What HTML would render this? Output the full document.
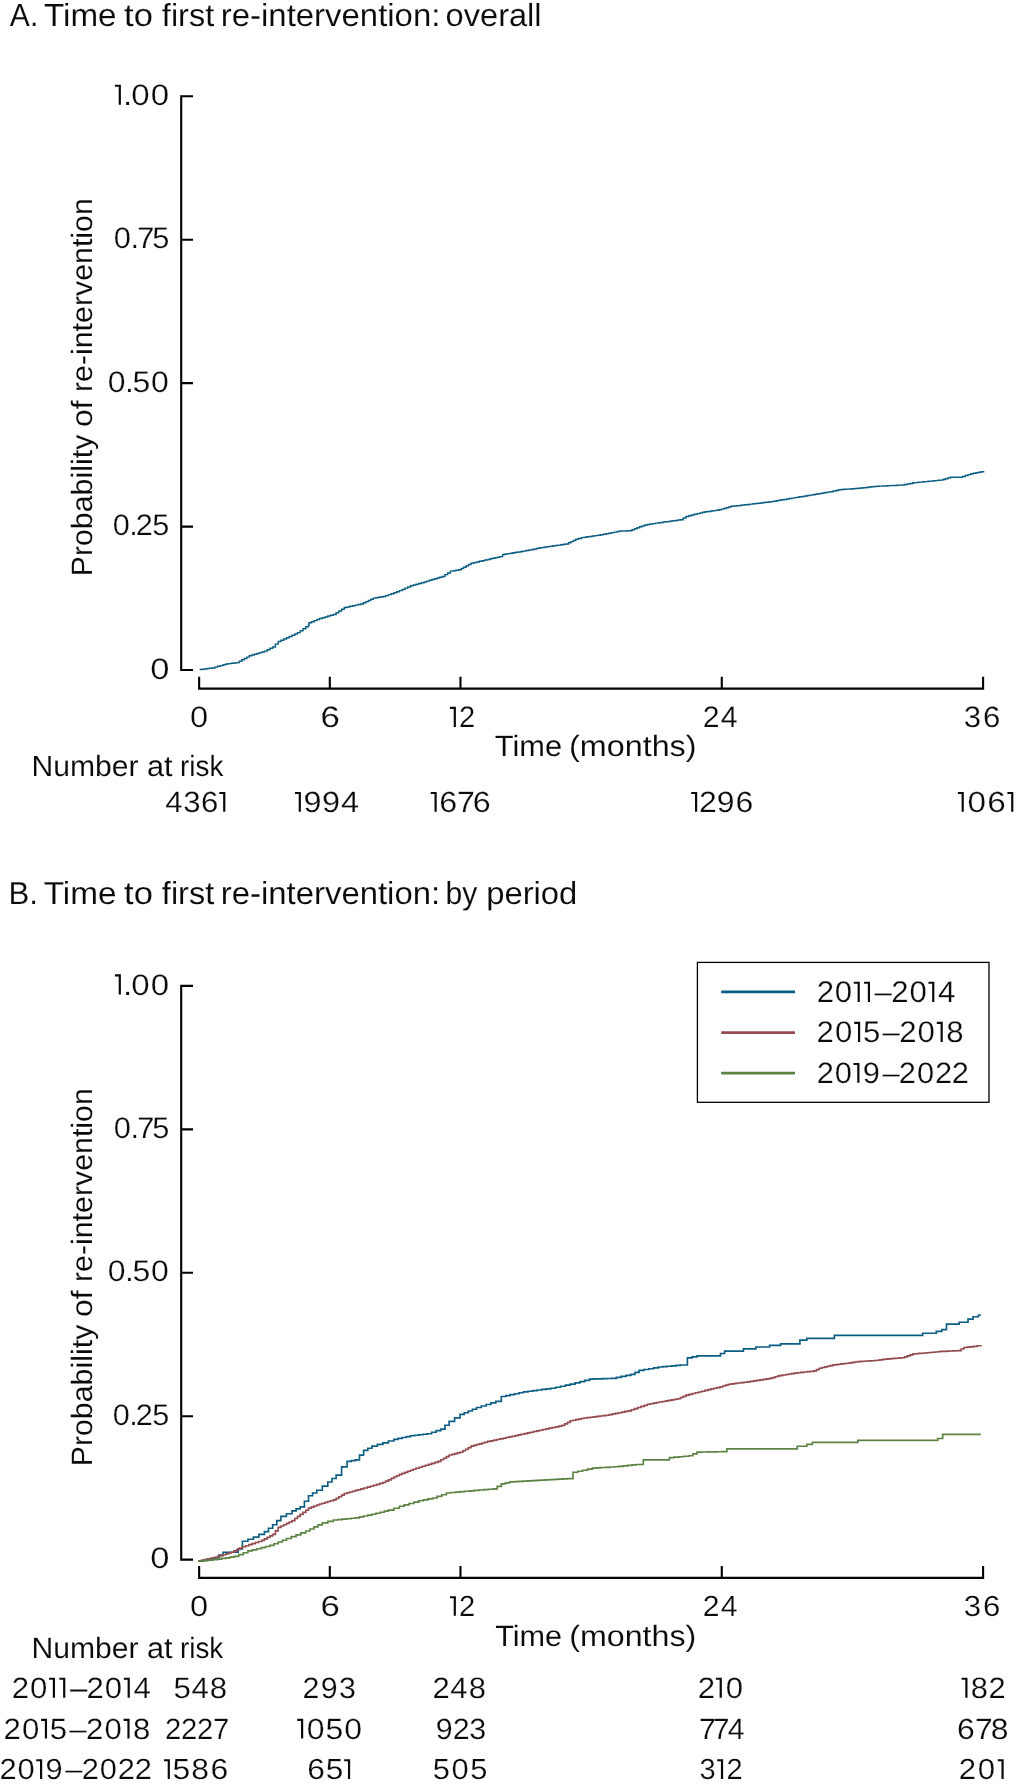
<!DOCTYPE html>
<html><head><meta charset="utf-8"><title>Figure</title>
<style>
html,body{margin:0;padding:0;background:#fff;}
svg{display:block;will-change:transform}
text{font-family:"Liberation Sans",sans-serif;font-size:30px;fill:#0a0a0a;stroke:#fff;stroke-width:0.1px;text-rendering:geometricPrecision;}
.d{stroke-width:0.22px}
.h{fill:none;stroke:none}
.ax{stroke:#000;stroke-width:2.1;fill:none;stroke-linecap:butt}
.cv{fill:none;stroke-width:1.65;stroke-linejoin:miter;stroke-linecap:butt}
</style></head><body>
<svg width="1016" height="1786" viewBox="0 0 1016 1786">
<rect width="1016" height="1786" fill="#fff"/>
<text transform="translate(9.85,25.93) scale(1.0020,1.0634)">A.</text>
<text transform="translate(43.97,25.93) scale(1.1077,1.0634)">Time</text>
<text transform="translate(124.02,25.93) scale(1.1527,1.0634)">to</text>
<text transform="translate(161.86,25.93) scale(1.0821,1.0634)">first</text>
<text transform="translate(220.81,25.93) scale(1.0971,1.0634)">re-intervention:</text>
<text transform="translate(445.61,25.93) scale(1.0859,1.0634)">overall</text>
<text transform="translate(8.50,904.08) scale(1.0391,1.0610)">B.</text>
<text transform="translate(43.67,904.08) scale(1.1124,1.0610)">Time</text>
<text transform="translate(124.02,904.08) scale(1.1527,1.0610)">to</text>
<text transform="translate(161.86,904.08) scale(1.0821,1.0610)">first</text>
<text transform="translate(220.81,904.08) scale(1.0960,1.0610)">re-intervention:</text>
<text transform="translate(445.39,904.08) scale(1.0034,1.0610)">by</text>
<text transform="translate(486.22,904.08) scale(1.0923,1.0610)">period</text>
<text class="d" transform="translate(0,104.95) scale(1.1018,0.9893)" x="104.33 111.64 119.15 136.89"><tspan class="h">1</tspan>.00</text><path fill="#0a0a0a" d="M114.95,84.75H120.90V104.80H118.70V86.85H114.95Z"/>
<text class="d" transform="translate(0,248.38) scale(1.0275,0.9893)" x="110.79 127.01 133.66 148.16">0.75</text>
<text class="d" transform="translate(0,391.81) scale(1.0659,0.9893)" x="101.16 117.35 124.30 141.69">0.50</text>
<text class="d" transform="translate(0,535.24) scale(1.0228,0.9893)" x="110.18 126.26 132.67 148.90">0.25</text>
<text class="d" transform="translate(0,678.67) scale(1.1509,0.9893)" x="130.56">0</text>
<text class="d" transform="translate(0,994.55) scale(1.1018,0.9893)" x="104.33 111.64 119.15 136.89"><tspan class="h">1</tspan>.00</text><path fill="#0a0a0a" d="M114.95,974.35H120.90V994.40H118.70V976.45H114.95Z"/>
<text class="d" transform="translate(0,1137.98) scale(1.0275,0.9893)" x="110.79 127.01 133.66 148.16">0.75</text>
<text class="d" transform="translate(0,1281.41) scale(1.0659,0.9893)" x="101.16 117.35 124.30 141.69">0.50</text>
<text class="d" transform="translate(0,1424.84) scale(1.0228,0.9893)" x="110.18 126.26 132.67 148.90">0.25</text>
<text class="d" transform="translate(0,1568.27) scale(1.1509,0.9893)" x="130.56">0</text>
<text class="d" transform="translate(0,727.05) scale(1.0877,0.9893)" x="174.62">0</text>
<text class="d" transform="translate(0,1615.96) scale(1.0877,0.9704)" x="174.62">0</text>
<text class="d" transform="translate(0,727.05) scale(1.1596,0.9893)" x="276.48">6</text>
<text class="d" transform="translate(0,1615.96) scale(1.1596,0.9704)" x="276.48">6</text>
<text class="d" transform="translate(0,727.05) scale(0.9704,0.9893)" x="463.69 473.14"><tspan class="h">1</tspan>2</text><path fill="#0a0a0a" d="M449.95,706.85H455.90V726.90H453.70V708.95H449.95Z"/>
<text class="d" transform="translate(0,1615.96) scale(0.9704,0.9704)" x="463.69 473.14"><tspan class="h">1</tspan>2</text><path fill="#0a0a0a" d="M449.95,1596.15H455.90V1615.80H453.70V1598.25H449.95Z"/>
<text class="d" transform="translate(0,727.05) scale(1.0070,0.9893)" x="697.92 715.67">24</text>
<text class="d" transform="translate(0,1615.96) scale(1.0070,0.9704)" x="697.92 715.67">24</text>
<text class="d" transform="translate(0,727.05) scale(1.0389,0.9893)" x="927.68 946.21">36</text>
<text class="d" transform="translate(0,1615.96) scale(1.0389,0.9704)" x="927.68 946.21">36</text>
<text transform="translate(494.83,755.92) scale(1.0272,0.9756)">Time</text>
<text transform="translate(569.08,755.92) scale(1.0766,0.9756)">(months)</text>
<text transform="translate(495.13,1646.12) scale(1.0225,0.9805)">Time</text>
<text transform="translate(569.19,1646.12) scale(1.0739,0.9805)">(months)</text>
<text transform="translate(31.49,775.82) scale(1.0036,0.9732)">Number</text>
<text transform="translate(146.99,775.82) scale(1.0225,0.9732)">at</text>
<text transform="translate(180.04,775.82) scale(0.9281,0.9732)">risk</text>
<text transform="translate(31.49,1658.02) scale(1.0036,0.9756)">Number</text>
<text transform="translate(146.99,1658.02) scale(1.0225,0.9756)">at</text>
<text transform="translate(180.05,1658.02) scale(0.9258,0.9756)">risk</text>
<text class="d" transform="translate(0,811.86) scale(1.0393,0.9751)" x="159.07 176.39 193.33 211.10">436<tspan class="h">1</tspan></text><path fill="#0a0a0a" d="M219.40,791.95H225.35V811.70H223.15V794.05H219.40Z"/>
<text class="d" transform="translate(0,811.86) scale(1.0824,0.9751)" x="272.51 280.35 297.58 315.12"><tspan class="h">1</tspan>994</text><path fill="#0a0a0a" d="M294.95,791.95H300.90V811.70H298.70V794.05H294.95Z"/>
<text class="d" transform="translate(0,811.86) scale(1.0724,0.9751)" x="401.67 409.60 426.17 440.74"><tspan class="h">1</tspan>676</text><path fill="#0a0a0a" d="M430.75,791.95H436.70V811.70H434.50V794.05H430.75Z"/>
<text class="d" transform="translate(0,811.86) scale(1.0642,0.9751)" x="649.54 656.79 673.45 691.04"><tspan class="h">1</tspan>296</text><path fill="#0a0a0a" d="M691.25,791.95H697.20V811.70H695.00V794.05H691.25Z"/>
<text class="d" transform="translate(0,811.86) scale(1.1085,0.9751)" x="864.08 872.71 890.64 908.78"><tspan class="h">1</tspan>06<tspan class="h">1</tspan></text><path fill="#0a0a0a" d="M957.85,791.95H963.80V811.70H961.60V794.05H957.85Z"/><path fill="#0a0a0a" d="M1007.40,791.95H1013.35V811.70H1011.15V794.05H1007.40Z"/>
<text class="d" transform="translate(0,1697.85) scale(1.0383,0.9846)" x="11.37 28.93 47.26 57.17 67.34 83.40 100.96 119.29 128.51">20<tspan class="h">1</tspan><tspan class="h">1</tspan>–20<tspan class="h">1</tspan>4</text><path fill="#0a0a0a" d="M49.07,1677.75H55.02V1697.70H52.82V1679.85H49.07Z"/><path fill="#0a0a0a" d="M59.36,1677.75H65.31V1697.70H63.11V1679.85H59.36Z"/><path fill="#0a0a0a" d="M123.86,1677.75H129.81V1697.70H127.61V1679.85H123.86Z"/>
<text class="d" transform="translate(0,1697.85) scale(1.0395,0.9846)" x="166.85 184.12 201.77">548</text>
<text class="d" transform="translate(0,1697.85) scale(1.0133,0.9846)" x="298.58 316.44 334.63">293</text>
<text class="d" transform="translate(0,1697.85) scale(1.0329,0.9846)" x="418.61 435.87 453.90">248</text>
<text class="d" transform="translate(0,1697.85) scale(1.0378,0.9846)" x="672.22 689.78 699.39">2<tspan class="h">1</tspan>0</text><path fill="#0a0a0a" d="M715.88,1677.75H721.83V1697.70H719.62V1679.85H715.88Z"/>
<text class="d" transform="translate(0,1697.85) scale(1.0291,0.9846)" x="934.37 943.22 960.49"><tspan class="h">1</tspan>82</text><path fill="#0a0a0a" d="M961.55,1677.75H967.50V1697.70H965.30V1679.85H961.55Z"/>
<text class="d" transform="translate(0,1738.76) scale(1.0383,0.9751)" x="3.42 21.12 39.58 47.99 66.71 82.90 100.60 119.06 128.10">20<tspan class="h">1</tspan>5–20<tspan class="h">1</tspan>8</text><path fill="#0a0a0a" d="M41.10,1718.85H47.05V1738.60H44.85V1720.95H41.10Z"/><path fill="#0a0a0a" d="M123.63,1718.85H129.58V1738.60H127.38V1720.95H123.63Z"/>
<text class="d" transform="translate(0,1738.76) scale(0.9741,0.9751)" x="169.49 185.84 202.20 218.66">2227</text>
<text class="d" transform="translate(0,1738.76) scale(1.0659,0.9751)" x="278.88 287.73 305.39 323.04"><tspan class="h">1</tspan>050</text><path fill="#0a0a0a" d="M297.25,1718.85H303.20V1738.60H301.00V1720.95H297.25Z"/>
<text class="d" transform="translate(0,1738.76) scale(1.0133,0.9751)" x="430.08 446.90 463.02">923</text>
<text class="d" transform="translate(0,1738.76) scale(1.0048,0.9751)" x="695.62 709.31 724.26">774</text>
<text class="d" transform="translate(0,1738.76) scale(1.0626,0.9751)" x="900.74 917.50 932.32">678</text>
<text class="d" transform="translate(0,1779.06) scale(1.0286,0.9704)" x="-0.60 16.98 35.24 44.15 63.39 79.44 97.01 114.59 130.90">20<tspan class="h">1</tspan>9–2022</text><path fill="#0a0a0a" d="M36.25,1759.25H42.20V1778.90H40.00V1761.35H36.25Z"/>
<text class="d" transform="translate(0,1779.06) scale(1.0643,0.9704)" x="154.05 162.18 179.72 197.81"><tspan class="h">1</tspan>586</text><path fill="#0a0a0a" d="M163.95,1759.25H169.90V1778.90H167.70V1761.35H163.95Z"/>
<text class="d" transform="translate(0,1779.06) scale(1.0534,0.9704)" x="291.74 309.34 326.75">65<tspan class="h">1</tspan></text><path fill="#0a0a0a" d="M344.20,1759.25H350.15V1778.90H347.95V1761.35H344.20Z"/>
<text class="d" transform="translate(0,1779.06) scale(1.0296,0.9704)" x="420.39 438.60 456.81">505</text>
<text class="d" transform="translate(0,1779.06) scale(0.9673,0.9704)" x="723.14 741.44 751.03">3<tspan class="h">1</tspan>2</text><path fill="#0a0a0a" d="M717.17,1759.25H723.12V1778.90H720.92V1761.35H717.17Z"/>
<text class="d" transform="translate(0,1779.06) scale(1.0378,0.9704)" x="923.90 942.23 961.33">20<tspan class="h">1</tspan></text><path fill="#0a0a0a" d="M997.70,1759.25H1003.65V1778.90H1001.45V1761.35H997.70Z"/>
<text class="d" transform="translate(0,1002.05) scale(1.0383,0.9988)" x="786.53 804.05 822.34 832.21 842.33 858.35 875.87 894.16 903.34">20<tspan class="h">1</tspan><tspan class="h">1</tspan>–20<tspan class="h">1</tspan>4</text><path fill="#0a0a0a" d="M853.84,981.65H859.79V1001.90H857.59V983.75H853.84Z"/><path fill="#0a0a0a" d="M864.08,981.65H870.03V1001.90H867.83V983.75H864.08Z"/><path fill="#0a0a0a" d="M928.41,981.65H934.36V1001.90H932.16V983.75H928.41Z"/>
<text class="d" transform="translate(0,1042.15) scale(1.0383,0.9941)" x="786.51 804.22 822.70 831.12 849.85 866.05 883.76 902.24 911.28">20<tspan class="h">1</tspan>5–20<tspan class="h">1</tspan>8</text><path fill="#0a0a0a" d="M854.23,1021.85H860.18V1042.00H857.98V1023.95H854.23Z"/><path fill="#0a0a0a" d="M936.81,1021.85H942.76V1042.00H940.56V1023.95H936.81Z"/>
<text class="d" transform="translate(0,1082.96) scale(1.0286,0.9799)" x="794.05 811.58 829.80 838.67 857.86 873.87 891.40 908.93 925.20">20<tspan class="h">1</tspan>9–2022</text><path fill="#0a0a0a" d="M853.51,1062.95H859.46V1082.80H857.26V1065.05H853.51Z"/>
<text transform="translate(92.22,576.33) rotate(-90) scale(1.0111,0.9805)">Probability</text>
<text transform="translate(92.22,426.96) rotate(-90) scale(1.0624,0.9805)">of</text>
<text transform="translate(92.22,392.12) rotate(-90) scale(1.0115,0.9805)">re-intervention</text>
<text transform="translate(92.22,1466.33) rotate(-90) scale(1.0111,0.9805)">Probability</text>
<text transform="translate(92.22,1316.96) rotate(-90) scale(1.0624,0.9805)">of</text>
<text transform="translate(92.22,1282.12) rotate(-90) scale(1.0115,0.9805)">re-intervention</text>
<path class="ax" d="M181.2,95.25 V671.07 M181.2,96.30 H193 M181.2,239.73 H193 M181.2,383.16 H193 M181.2,526.59 H193 M181.2,670.02 H193 M198.10,688.65 H984.15 M199.15,688.65 V676.65 M329.81,688.65 V676.65 M460.47,688.65 V676.65 M721.78,688.65 V676.65 M983.10,688.65 V676.65"/>
<path class="ax" d="M181.2,984.85 V1560.67 M181.2,985.90 H193 M181.2,1129.33 H193 M181.2,1272.76 H193 M181.2,1416.19 H193 M181.2,1559.62 H193 M198.10,1577.90 H984.15 M199.15,1577.90 V1565.90 M329.81,1577.90 V1565.90 M460.47,1577.90 V1565.90 M721.78,1577.90 V1565.90 M983.10,1577.90 V1565.90"/>
<path class="cv" style="stroke-width:1.45" stroke="#0b5d83" d="M199.6,669.5 L202.1,669.5 L202.1,669.2 L204.6,669.2 L204.6,668.9 L207.0,668.9 L207.0,668.5 L209.5,668.5 L209.5,668.2 L212.0,668.2 L212.0,667.9 L214.8,667.9 L214.8,667.1 L217.5,667.1 L217.5,666.3 L220.3,666.3 L220.3,665.6 L223.0,665.6 L223.0,664.8 L225.8,664.8 L225.8,664.0 L228.6,664.0 L228.6,663.6 L231.3,663.6 L231.3,663.3 L234.1,663.3 L234.1,663.0 L236.8,663.0 L236.8,662.6 L239.3,662.6 L239.3,661.2 L241.8,661.2 L241.8,659.8 L244.3,659.8 L244.3,658.5 L246.8,658.5 L246.8,657.1 L249.3,657.1 L249.3,655.7 L251.8,655.7 L251.8,654.9 L254.3,654.9 L254.3,654.2 L256.9,654.2 L256.9,653.4 L259.4,653.4 L259.4,652.6 L261.9,652.6 L261.9,651.9 L264.4,651.9 L264.4,651.1 L267.2,651.1 L267.2,649.7 L269.9,649.7 L269.9,648.3 L272.7,648.3 L272.7,646.9 L275.4,646.9 L275.4,644.1 L278.2,644.1 L278.2,641.4 L281.0,641.4 L281.0,640.2 L283.7,640.2 L283.7,639.0 L286.5,639.0 L286.5,637.8 L289.2,637.8 L289.2,636.5 L292.0,636.5 L292.0,635.2 L294.8,635.2 L294.8,633.9 L297.5,633.9 L297.5,632.6 L300.2,632.6 L300.2,630.7 L303.0,630.7 L303.0,628.8 L305.8,628.8 L305.8,626.8 L308.5,626.8 L308.5,624.9 L309.0,624.9 L309.0,622.7 L311.6,622.7 L311.6,621.7 L314.2,621.7 L314.2,620.6 L316.9,620.6 L316.9,619.5 L319.5,619.5 L319.5,618.5 L322.3,618.5 L322.3,617.7 L325.0,617.7 L325.0,616.9 L327.8,616.9 L327.8,616.0 L330.5,616.0 L330.5,615.2 L333.3,615.2 L333.3,614.4 L336.1,614.4 L336.1,612.7 L338.8,612.7 L338.8,611.0 L341.6,611.0 L341.6,609.2 L344.3,609.2 L344.3,607.5 L347.1,607.5 L347.1,606.9 L349.8,606.9 L349.8,606.3 L352.6,606.3 L352.6,605.7 L355.4,605.7 L355.4,605.1 L358.1,605.1 L358.1,604.5 L360.9,604.5 L360.9,603.9 L363.4,603.9 L363.4,602.7 L365.9,602.7 L365.9,601.6 L368.3,601.6 L368.3,600.4 L370.8,600.4 L370.8,599.3 L373.3,599.3 L373.3,598.1 L375.7,598.1 L375.7,597.7 L378.1,597.7 L378.1,597.3 L380.5,597.3 L380.5,596.9 L382.9,596.9 L382.9,596.5 L385.7,596.5 L385.7,595.6 L388.4,595.6 L388.4,594.6 L391.2,594.6 L391.2,593.7 L393.9,593.7 L393.9,592.7 L396.7,592.7 L396.7,591.8 L399.5,591.8 L399.5,590.6 L402.2,590.6 L402.2,589.4 L405.0,589.4 L405.0,588.1 L407.7,588.1 L407.7,586.9 L410.5,586.9 L410.5,585.7 L413.2,585.7 L413.2,584.9 L416.0,584.9 L416.0,584.2 L418.7,584.2 L418.7,583.4 L421.5,583.4 L421.5,582.7 L424.2,582.7 L424.2,581.9 L426.8,581.9 L426.8,581.1 L429.3,581.1 L429.3,580.3 L431.9,580.3 L431.9,579.5 L434.5,579.5 L434.5,578.8 L437.1,578.8 L437.1,578.0 L439.6,578.0 L439.6,577.2 L442.2,577.2 L442.2,576.4 L444.9,576.4 L444.9,574.6 L447.7,574.6 L447.7,572.9 L450.4,572.9 L450.4,571.1 L453.2,571.1 L453.2,570.7 L455.9,570.7 L455.9,570.2 L458.7,570.2 L458.7,569.8 L461.2,569.8 L461.2,568.5 L463.6,568.5 L463.6,567.2 L466.1,567.2 L466.1,565.8 L468.5,565.8 L468.5,564.5 L471.0,564.5 L471.0,563.2 L473.8,563.2 L473.8,562.6 L476.5,562.6 L476.5,561.9 L479.3,561.9 L479.3,561.3 L482.1,561.3 L482.1,560.7 L484.8,560.7 L484.8,560.0 L487.6,560.0 L487.6,559.4 L490.1,559.4 L490.1,558.8 L492.6,558.8 L492.6,558.3 L495.0,558.3 L495.0,557.7 L497.5,557.7 L497.5,557.2 L500.0,557.2 L500.0,556.6 L502.7,556.6 L502.7,554.4 L505.3,554.4 L505.3,554.0 L507.9,554.0 L507.9,553.6 L510.5,553.6 L510.5,553.2 L513.0,553.2 L513.0,552.8 L515.6,552.8 L515.6,552.3 L518.2,552.3 L518.2,551.9 L520.8,551.9 L520.8,551.5 L523.4,551.5 L523.4,551.1 L526.1,551.1 L526.1,550.5 L528.9,550.5 L528.9,550.0 L531.6,550.0 L531.6,549.5 L534.4,549.5 L534.4,548.9 L537.1,548.9 L537.1,548.3 L539.9,548.3 L539.9,547.8 L542.5,547.8 L542.5,547.4 L545.1,547.4 L545.1,547.0 L547.8,547.0 L547.8,546.6 L550.4,546.6 L550.4,546.2 L553.0,546.2 L553.0,545.8 L555.6,545.8 L555.6,545.5 L558.2,545.5 L558.2,545.1 L560.9,545.1 L560.9,544.7 L563.5,544.7 L563.5,544.3 L566.1,544.3 L566.1,543.9 L568.5,543.9 L568.5,542.8 L570.9,542.8 L570.9,541.6 L573.3,541.6 L573.3,540.4 L575.7,540.4 L575.7,539.3 L578.5,539.3 L578.5,538.5 L581.3,538.5 L581.3,537.6 L584.1,537.6 L584.1,537.2 L586.8,537.2 L586.8,536.8 L589.6,536.8 L589.6,536.4 L592.3,536.4 L592.3,536.0 L595.1,536.0 L595.1,535.6 L597.8,535.6 L597.8,535.2 L600.6,535.2 L600.6,534.8 L603.3,534.8 L603.3,534.3 L606.1,534.3 L606.1,533.7 L608.8,533.7 L608.8,533.2 L611.6,533.2 L611.6,532.6 L614.3,532.6 L614.3,532.1 L617.1,532.1 L617.1,531.5 L619.8,531.5 L619.8,531.0 L622.2,531.0 L622.2,530.9 L624.6,530.9 L624.6,530.9 L627.1,530.9 L627.1,530.8 L629.5,530.8 L629.5,530.7 L632.0,530.7 L632.0,529.7 L634.5,529.7 L634.5,528.8 L637.0,528.8 L637.0,527.8 L639.6,527.8 L639.6,526.8 L642.1,526.8 L642.1,525.9 L644.6,525.9 L644.6,524.9 L647.4,524.9 L647.4,524.5 L650.1,524.5 L650.1,524.0 L652.9,524.0 L652.9,523.6 L655.6,523.6 L655.6,523.1 L658.4,523.1 L658.4,522.7 L660.9,522.7 L660.9,522.4 L663.3,522.4 L663.3,522.0 L665.8,522.0 L665.8,521.7 L668.2,521.7 L668.2,521.4 L670.7,521.4 L670.7,521.0 L673.1,521.0 L673.1,520.7 L675.6,520.7 L675.6,520.4 L678.0,520.4 L678.0,520.0 L680.5,520.0 L680.5,519.7 L683.2,519.7 L683.2,518.0 L686.0,518.0 L686.0,516.4 L688.8,516.4 L688.8,515.7 L691.5,515.7 L691.5,515.0 L694.2,515.0 L694.2,514.3 L697.0,514.3 L697.0,513.6 L699.8,513.6 L699.8,512.9 L702.5,512.9 L702.5,512.2 L705.2,512.2 L705.2,511.8 L708.0,511.8 L708.0,511.4 L710.8,511.4 L710.8,511.0 L713.5,511.0 L713.5,510.6 L716.2,510.6 L716.2,510.2 L719.0,510.2 L719.0,509.8 L721.4,509.8 L721.4,509.1 L723.8,509.1 L723.8,508.4 L726.2,508.4 L726.2,507.7 L728.6,507.7 L728.6,507.0 L731.0,507.0 L731.0,506.3 L733.8,506.3 L733.8,506.0 L736.5,506.0 L736.5,505.7 L739.3,505.7 L739.3,505.4 L742.0,505.4 L742.0,505.0 L744.8,505.0 L744.8,504.7 L747.5,504.7 L747.5,504.4 L750.3,504.4 L750.3,504.1 L752.9,504.1 L752.9,503.8 L755.5,503.8 L755.5,503.5 L758.1,503.5 L758.1,503.2 L760.6,503.2 L760.6,502.9 L763.2,502.9 L763.2,502.5 L765.8,502.5 L765.8,502.2 L768.4,502.2 L768.4,501.9 L771.0,501.9 L771.0,501.6 L773.6,501.6 L773.6,501.2 L776.2,501.2 L776.2,500.7 L778.9,500.7 L778.9,500.3 L781.5,500.3 L781.5,499.8 L784.1,499.8 L784.1,499.4 L786.7,499.4 L786.7,499.0 L789.3,499.0 L789.3,498.5 L792.0,498.5 L792.0,498.1 L794.6,498.1 L794.6,497.6 L797.2,497.6 L797.2,497.2 L799.7,497.2 L799.7,496.8 L802.3,496.8 L802.3,496.4 L804.8,496.4 L804.8,495.9 L807.4,495.9 L807.4,495.5 L809.9,495.5 L809.9,495.1 L812.4,495.1 L812.4,494.7 L815.0,494.7 L815.0,494.2 L817.5,494.2 L817.5,493.8 L820.0,493.8 L820.0,493.4 L822.6,493.4 L822.6,493.0 L825.1,493.0 L825.1,492.5 L827.7,492.5 L827.7,492.1 L830.2,492.1 L830.2,491.7 L833.0,491.7 L833.0,491.0 L835.7,491.0 L835.7,490.4 L838.5,490.4 L838.5,489.7 L841.3,489.7 L841.3,489.5 L844.0,489.5 L844.0,489.3 L846.8,489.3 L846.8,489.1 L849.5,489.1 L849.5,488.9 L852.3,488.9 L852.3,488.7 L855.0,488.7 L855.0,488.5 L857.8,488.5 L857.8,488.3 L860.5,488.3 L860.5,488.0 L863.3,488.0 L863.3,487.7 L866.0,487.7 L866.0,487.4 L868.8,487.4 L868.8,487.0 L871.5,487.0 L871.5,486.7 L874.3,486.7 L874.3,486.4 L876.8,486.4 L876.8,486.3 L879.3,486.3 L879.3,486.1 L881.8,486.1 L881.8,486.0 L884.3,486.0 L884.3,485.9 L886.8,485.9 L886.8,485.8 L889.4,485.8 L889.4,485.6 L891.9,485.6 L891.9,485.5 L894.4,485.5 L894.4,485.4 L896.9,485.4 L896.9,485.3 L899.4,485.3 L899.4,485.1 L901.9,485.1 L901.9,485.0 L904.6,485.0 L904.6,484.4 L907.4,484.4 L907.4,483.9 L910.1,483.9 L910.1,483.4 L912.9,483.4 L912.9,482.8 L915.4,482.8 L915.4,482.6 L917.9,482.6 L917.9,482.3 L920.4,482.3 L920.4,482.1 L922.9,482.1 L922.9,481.8 L925.4,481.8 L925.4,481.6 L928.0,481.6 L928.0,481.3 L930.5,481.3 L930.5,481.1 L933.0,481.1 L933.0,480.8 L935.5,480.8 L935.5,480.6 L938.0,480.6 L938.0,480.3 L940.5,480.3 L940.5,480.1 L942.9,480.1 L942.9,479.4 L945.3,479.4 L945.3,478.7 L947.7,478.7 L947.7,478.0 L950.1,478.0 L950.1,477.3 L959.8,477.3 L962.5,477.3 L962.5,476.4 L965.3,476.4 L965.3,475.5 L968.0,475.5 L968.0,474.6 L970.8,474.6 L970.8,473.7 L973.4,473.7 L973.4,473.2 L976.0,473.2 L976.0,472.7 L978.5,472.7 L978.5,472.3 L981.1,472.3 L981.1,471.8 L983.7,471.8 L983.7,471.3"/>
<path class="cv" stroke="#0b5d83" d="M198.3,1561.1 L202.4,1561.1 L202.4,1560.3 L206.6,1560.3 L206.6,1559.4 L210.7,1559.4 L210.7,1558.6 L214.8,1558.6 L214.8,1557.8 L218.9,1557.8 L218.9,1555.0 L223.1,1555.0 L223.1,1552.2 L234.1,1552.2 L238.2,1552.2 L238.2,1548.8 L242.4,1548.8 L242.4,1545.4 L242.4,1541.2 L247.9,1541.2 L247.9,1539.2 L253.4,1539.2 L253.4,1537.1 L258.9,1537.1 L258.9,1534.3 L264.4,1534.3 L264.4,1531.6 L268.5,1531.6 L268.5,1528.2 L272.7,1528.2 L272.7,1524.7 L276.8,1524.7 L276.8,1520.6 L280.9,1520.6 L280.9,1516.4 L286.4,1516.4 L286.4,1513.7 L292.0,1513.7 L292.0,1510.9 L296.1,1510.9 L296.1,1508.8 L300.2,1508.8 L300.2,1506.8 L304.4,1506.8 L304.4,1501.2 L308.5,1501.2 L308.5,1495.7 L312.6,1495.7 L312.6,1493.0 L316.8,1493.0 L316.8,1490.2 L322.3,1490.2 L322.3,1486.1 L327.8,1486.1 L327.8,1482.0 L332.0,1482.0 L332.0,1478.5 L336.1,1478.5 L336.1,1475.1 L341.6,1475.1 L341.6,1466.8 L347.1,1466.8 L347.1,1461.3 L351.2,1461.3 L351.2,1460.6 L355.4,1460.6 L355.4,1459.9 L359.5,1459.9 L359.5,1455.1 L363.6,1455.1 L363.6,1450.3 L367.8,1450.3 L367.8,1448.2 L371.9,1448.2 L371.9,1446.1 L377.4,1446.1 L377.4,1444.4 L382.9,1444.4 L382.9,1442.8 L388.4,1442.8 L388.4,1441.0 L393.9,1441.0 L393.9,1439.3 L398.0,1439.3 L398.0,1438.4 L402.2,1438.4 L402.2,1437.5 L406.4,1437.5 L406.4,1436.6 L410.5,1436.6 L410.5,1435.7 L414.6,1435.7 L414.6,1435.2 L418.8,1435.2 L418.8,1434.7 L422.9,1434.7 L422.9,1434.2 L427.0,1434.2 L427.0,1433.7 L431.6,1433.7 L431.6,1432.2 L436.2,1432.2 L436.2,1430.6 L440.8,1430.6 L440.8,1429.1 L445.0,1429.1 L445.0,1425.2 L449.1,1425.2 L449.1,1421.3 L454.6,1421.3 L454.6,1417.8 L460.1,1417.8 L460.1,1414.4 L464.2,1414.4 L464.2,1412.7 L468.3,1412.7 L468.3,1411.0 L472.4,1411.0 L472.4,1409.2 L476.5,1409.2 L476.5,1407.5 L481.3,1407.5 L481.3,1406.0 L486.1,1406.0 L486.1,1404.5 L491.0,1404.5 L491.0,1402.9 L495.8,1402.9 L495.8,1401.4 L501.3,1401.4 L501.3,1396.5 L505.7,1396.5 L505.7,1395.6 L510.1,1395.6 L510.1,1394.6 L514.6,1394.6 L514.6,1393.7 L519.0,1393.7 L519.0,1392.7 L523.4,1392.7 L523.4,1391.8 L528.0,1391.8 L528.0,1391.2 L532.6,1391.2 L532.6,1390.6 L537.1,1390.6 L537.1,1390.0 L541.7,1390.0 L541.7,1389.4 L546.3,1389.4 L546.3,1388.8 L550.9,1388.8 L550.9,1388.2 L555.7,1388.2 L555.7,1387.2 L560.5,1387.2 L560.5,1386.2 L565.4,1386.2 L565.4,1385.1 L570.2,1385.1 L570.2,1384.1 L575.0,1384.1 L575.0,1382.8 L579.9,1382.8 L579.9,1381.6 L584.7,1381.6 L584.7,1380.3 L589.5,1380.3 L589.5,1379.1 L593.9,1379.1 L593.9,1378.9 L598.3,1378.9 L598.3,1378.8 L602.8,1378.8 L602.8,1378.6 L607.2,1378.6 L607.2,1378.5 L611.6,1378.5 L611.6,1378.3 L616.4,1378.3 L616.4,1377.3 L621.2,1377.3 L621.2,1376.3 L626.1,1376.3 L626.1,1375.4 L630.9,1375.4 L630.9,1374.4 L635.0,1374.4 L635.0,1372.3 L639.1,1372.3 L639.1,1370.3 L643.9,1370.3 L643.9,1369.5 L648.8,1369.5 L648.8,1368.7 L653.6,1368.7 L653.6,1367.8 L658.4,1367.8 L658.4,1367.0 L662.8,1367.0 L662.8,1366.6 L667.2,1366.6 L667.2,1366.2 L671.7,1366.2 L671.7,1365.8 L676.1,1365.8 L676.1,1365.4 L680.5,1365.4 L680.5,1365.0 L687.4,1365.0 L687.4,1357.9 L692.2,1357.9 L692.2,1356.9 L697.0,1356.9 L697.0,1355.9 L716.3,1355.9 L720.5,1355.9 L720.5,1353.5 L724.6,1353.5 L724.6,1351.1 L743.4,1351.1 L743.4,1348.9 L755.8,1348.9 L755.8,1347.0 L769.6,1347.0 L769.6,1345.3 L780.6,1345.3 L780.6,1343.9 L799.9,1343.9 L799.9,1340.1 L806.8,1340.1 L806.8,1338.4 L831.6,1338.4 L834.4,1338.4 L834.4,1335.4 L921.2,1335.4 L922.6,1335.4 L922.6,1333.2 L935.0,1333.2 L936.3,1333.2 L936.3,1331.3 L941.8,1331.3 L941.8,1329.6 L945.4,1329.6 L946.5,1329.6 L946.5,1324.1 L958.4,1324.1 L959.2,1324.1 L959.2,1322.2 L966.7,1322.2 L968.0,1322.2 L968.0,1319.1 L972.2,1319.1 L973.0,1319.1 L973.0,1316.7 L977.7,1316.7 L978.5,1316.7 L978.5,1315.0 L980.8,1315.0"/>
<path class="cv" stroke="#944b4f" d="M198.3,1561.1 L201.5,1561.1 L201.5,1560.3 L204.7,1560.3 L204.7,1559.5 L207.9,1559.5 L207.9,1558.8 L211.2,1558.8 L211.2,1558.0 L214.4,1558.0 L214.4,1557.2 L217.6,1557.2 L217.6,1556.4 L220.3,1556.4 L220.3,1555.6 L223.1,1555.6 L223.1,1554.7 L225.8,1554.7 L225.8,1553.9 L228.6,1553.9 L228.6,1553.0 L231.3,1553.0 L231.3,1552.2 L234.1,1552.2 L234.1,1550.8 L236.9,1550.8 L236.9,1549.5 L239.6,1549.5 L239.6,1548.1 L242.4,1548.1 L242.4,1546.7 L245.6,1546.7 L245.6,1545.7 L248.8,1545.7 L248.8,1544.6 L252.1,1544.6 L252.1,1543.6 L255.3,1543.6 L255.3,1542.5 L258.5,1542.5 L258.5,1541.5 L261.7,1541.5 L261.7,1540.4 L264.4,1540.4 L264.4,1538.9 L267.2,1538.9 L267.2,1537.3 L269.9,1537.3 L269.9,1535.8 L272.7,1535.8 L272.7,1534.3 L275.4,1534.3 L275.4,1530.8 L278.2,1530.8 L278.2,1527.4 L281.0,1527.4 L281.0,1526.0 L283.7,1526.0 L283.7,1524.7 L286.5,1524.7 L286.5,1523.3 L289.2,1523.3 L289.2,1522.0 L292.0,1522.0 L292.0,1520.6 L294.8,1520.6 L294.8,1518.5 L297.5,1518.5 L297.5,1516.4 L300.2,1516.4 L300.2,1514.3 L303.0,1514.3 L303.0,1512.3 L305.8,1512.3 L305.8,1510.2 L308.5,1510.2 L308.5,1508.1 L311.2,1508.1 L311.2,1507.1 L314.0,1507.1 L314.0,1506.0 L316.8,1506.0 L316.8,1505.0 L319.5,1505.0 L319.5,1504.0 L322.3,1504.0 L322.3,1503.2 L325.0,1503.2 L325.0,1502.4 L327.8,1502.4 L327.8,1501.5 L330.5,1501.5 L330.5,1500.7 L333.3,1500.7 L333.3,1499.9 L336.1,1499.9 L336.1,1498.3 L338.8,1498.3 L338.8,1496.7 L341.6,1496.7 L341.6,1495.1 L344.3,1495.1 L344.3,1493.5 L347.1,1493.5 L347.1,1492.7 L349.8,1492.7 L349.8,1492.0 L352.6,1492.0 L352.6,1491.2 L355.4,1491.2 L355.4,1490.4 L358.1,1490.4 L358.1,1489.7 L360.9,1489.7 L360.9,1488.9 L364.0,1488.9 L364.0,1488.0 L367.2,1488.0 L367.2,1487.1 L370.3,1487.1 L370.3,1486.2 L373.5,1486.2 L373.5,1485.2 L376.6,1485.2 L376.6,1484.3 L379.8,1484.3 L379.8,1483.4 L382.9,1483.4 L382.9,1482.5 L385.6,1482.5 L385.6,1481.1 L388.4,1481.1 L388.4,1479.8 L391.1,1479.8 L391.1,1478.4 L393.9,1478.4 L393.9,1477.0 L396.6,1477.0 L396.6,1475.7 L399.4,1475.7 L399.4,1474.3 L402.2,1474.3 L402.2,1473.3 L404.9,1473.3 L404.9,1472.3 L407.7,1472.3 L407.7,1471.2 L410.5,1471.2 L410.5,1470.2 L413.2,1470.2 L413.2,1469.2 L416.0,1469.2 L416.0,1468.2 L419.1,1468.2 L419.1,1467.2 L422.3,1467.2 L422.3,1466.2 L425.4,1466.2 L425.4,1465.2 L428.6,1465.2 L428.6,1464.3 L431.7,1464.3 L431.7,1463.3 L434.9,1463.3 L434.9,1462.3 L438.0,1462.3 L438.0,1461.3 L440.8,1461.3 L440.8,1459.7 L443.6,1459.7 L443.6,1458.2 L446.3,1458.2 L446.3,1456.6 L449.1,1456.6 L449.1,1455.0 L451.9,1455.0 L451.9,1454.3 L454.6,1454.3 L454.6,1453.6 L457.4,1453.6 L457.4,1452.9 L460.1,1452.9 L460.1,1452.2 L462.8,1452.2 L462.8,1450.7 L465.6,1450.7 L465.6,1449.2 L468.3,1449.2 L468.3,1447.6 L471.0,1447.6 L471.0,1446.1 L473.8,1446.1 L473.8,1445.3 L476.5,1445.3 L476.5,1444.5 L479.3,1444.5 L479.3,1443.8 L482.1,1443.8 L482.1,1443.0 L484.8,1443.0 L484.8,1442.2 L487.6,1442.2 L487.6,1441.4 L490.7,1441.4 L490.7,1440.8 L493.7,1440.8 L493.7,1440.1 L496.8,1440.1 L496.8,1439.5 L499.8,1439.5 L499.8,1438.8 L502.9,1438.8 L502.9,1438.2 L505.9,1438.2 L505.9,1437.5 L509.0,1437.5 L509.0,1436.9 L512.0,1436.9 L512.0,1436.2 L515.1,1436.2 L515.1,1435.6 L518.2,1435.6 L518.2,1434.9 L521.2,1434.9 L521.2,1434.2 L524.3,1434.2 L524.3,1433.6 L527.4,1433.6 L527.4,1432.9 L530.4,1432.9 L530.4,1432.2 L533.5,1432.2 L533.5,1431.5 L536.6,1431.5 L536.6,1430.9 L539.6,1430.9 L539.6,1430.2 L542.7,1430.2 L542.7,1429.5 L545.9,1429.5 L545.9,1428.8 L549.1,1428.8 L549.1,1428.1 L552.4,1428.1 L552.4,1427.5 L555.6,1427.5 L555.6,1426.8 L558.8,1426.8 L558.8,1426.1 L562.0,1426.1 L562.0,1425.4 L564.7,1425.4 L564.7,1423.8 L567.5,1423.8 L567.5,1422.3 L570.2,1422.3 L570.2,1420.7 L573.0,1420.7 L573.0,1420.2 L575.7,1420.2 L575.7,1419.6 L578.5,1419.6 L578.5,1419.1 L581.2,1419.1 L581.2,1418.5 L584.0,1418.5 L584.0,1418.0 L587.2,1418.0 L587.2,1417.6 L590.3,1417.6 L590.3,1417.2 L593.5,1417.2 L593.5,1416.8 L596.6,1416.8 L596.6,1416.4 L599.8,1416.4 L599.8,1416.0 L602.9,1416.0 L602.9,1415.6 L606.1,1415.6 L606.1,1415.2 L609.2,1415.2 L609.2,1414.6 L612.4,1414.6 L612.4,1413.9 L615.5,1413.9 L615.5,1413.3 L618.7,1413.3 L618.7,1412.7 L621.8,1412.7 L621.8,1412.1 L625.0,1412.1 L625.0,1411.4 L628.1,1411.4 L628.1,1410.8 L631.3,1410.8 L631.3,1409.7 L634.5,1409.7 L634.5,1408.6 L637.8,1408.6 L637.8,1407.5 L641.0,1407.5 L641.0,1406.4 L644.2,1406.4 L644.2,1405.3 L647.4,1405.3 L647.4,1404.2 L650.4,1404.2 L650.4,1403.7 L653.5,1403.7 L653.5,1403.1 L656.5,1403.1 L656.5,1402.5 L659.5,1402.5 L659.5,1402.0 L662.5,1402.0 L662.5,1401.5 L665.6,1401.5 L665.6,1400.9 L668.6,1400.9 L668.6,1400.4 L671.6,1400.4 L671.6,1399.8 L674.7,1399.8 L674.7,1399.2 L677.7,1399.2 L677.7,1398.7 L680.5,1398.7 L680.5,1397.5 L683.2,1397.5 L683.2,1396.3 L686.0,1396.3 L686.0,1395.1 L689.1,1395.1 L689.1,1394.3 L692.3,1394.3 L692.3,1393.5 L695.4,1393.5 L695.4,1392.7 L698.6,1392.7 L698.6,1392.0 L701.7,1392.0 L701.7,1391.2 L704.9,1391.2 L704.9,1390.4 L708.0,1390.4 L708.0,1389.6 L711.0,1389.6 L711.0,1388.9 L714.0,1388.9 L714.0,1388.2 L717.0,1388.2 L717.0,1387.6 L720.0,1387.6 L720.0,1386.9 L722.8,1386.9 L722.8,1386.0 L725.5,1386.0 L725.5,1385.1 L728.3,1385.1 L728.3,1384.2 L731.4,1384.2 L731.4,1383.8 L734.6,1383.8 L734.6,1383.4 L737.7,1383.4 L737.7,1383.0 L740.9,1383.0 L740.9,1382.6 L744.0,1382.6 L744.0,1382.2 L747.2,1382.2 L747.2,1381.8 L750.3,1381.8 L750.3,1381.4 L753.5,1381.4 L753.5,1380.9 L756.7,1380.9 L756.7,1380.4 L760.0,1380.4 L760.0,1379.9 L763.2,1379.9 L763.2,1379.4 L766.4,1379.4 L766.4,1378.9 L769.6,1378.9 L769.6,1378.4 L772.4,1378.4 L772.4,1377.6 L775.1,1377.6 L775.1,1376.7 L777.9,1376.7 L777.9,1375.9 L780.6,1375.9 L780.6,1375.4 L783.4,1375.4 L783.4,1375.0 L786.1,1375.0 L786.1,1374.5 L788.9,1374.5 L788.9,1374.0 L791.6,1374.0 L791.6,1373.6 L794.4,1373.6 L794.4,1373.1 L797.6,1373.1 L797.6,1372.7 L800.8,1372.7 L800.8,1372.4 L804.0,1372.4 L804.0,1372.0 L807.3,1372.0 L807.3,1371.6 L810.5,1371.6 L810.5,1371.3 L813.7,1371.3 L813.7,1370.9 L816.5,1370.9 L816.5,1369.6 L819.2,1369.6 L819.2,1368.2 L822.0,1368.2 L822.0,1367.5 L824.7,1367.5 L824.7,1366.9 L827.5,1366.9 L827.5,1366.2 L830.2,1366.2 L830.2,1365.6 L833.0,1365.6 L833.0,1364.9 L835.8,1364.9 L835.8,1364.6 L838.5,1364.6 L838.5,1364.2 L841.3,1364.2 L841.3,1363.9 L844.0,1363.9 L844.0,1363.5 L846.8,1363.5 L846.8,1363.2 L849.5,1363.2 L849.5,1362.8 L852.3,1362.8 L852.3,1362.4 L855.0,1362.4 L855.0,1362.0 L857.8,1362.0 L857.8,1361.6 L860.5,1361.6 L860.5,1361.4 L863.3,1361.4 L863.3,1361.2 L866.0,1361.2 L866.0,1361.0 L868.8,1361.0 L868.8,1360.9 L871.5,1360.9 L871.5,1360.7 L874.3,1360.7 L874.3,1360.5 L877.1,1360.5 L877.1,1360.2 L879.8,1360.2 L879.8,1359.8 L882.6,1359.8 L882.6,1359.4 L885.4,1359.4 L885.4,1359.1 L888.1,1359.1 L888.1,1358.9 L890.9,1358.9 L890.9,1358.6 L893.6,1358.6 L893.6,1358.4 L896.4,1358.4 L896.4,1358.2 L899.1,1358.2 L899.1,1357.9 L901.9,1357.9 L901.9,1357.7 L904.6,1357.7 L904.6,1356.8 L907.4,1356.8 L907.4,1355.8 L910.1,1355.8 L910.1,1354.9 L912.9,1354.9 L912.9,1353.9 L915.6,1353.9 L915.6,1353.7 L918.4,1353.7 L918.4,1353.4 L921.1,1353.4 L921.1,1353.2 L923.9,1353.2 L923.9,1353.0 L926.6,1353.0 L926.6,1352.7 L929.4,1352.7 L929.4,1352.5 L932.2,1352.5 L932.2,1352.2 L935.0,1352.2 L935.0,1352.0 L937.7,1352.0 L937.7,1351.7 L940.5,1351.7 L940.5,1351.4 L943.5,1351.4 L943.5,1351.3 L946.5,1351.3 L946.5,1351.1 L949.5,1351.1 L949.5,1351.0 L952.4,1351.0 L952.4,1350.9 L955.4,1350.9 L955.4,1350.7 L958.4,1350.7 L958.4,1350.6 L961.1,1350.6 L961.1,1349.0 L963.9,1349.0 L963.9,1347.5 L967.1,1347.5 L967.1,1347.1 L970.3,1347.1 L970.3,1346.8 L973.5,1346.8 L973.5,1346.4 L977.1,1346.4 L977.1,1345.7 L980.8,1345.7 L980.8,1345.0"/>
<path class="cv" stroke="#5d8344" d="M198.3,1561.1 L203.1,1561.1 L203.1,1560.6 L207.9,1560.6 L207.9,1560.1 L212.8,1560.1 L212.8,1559.6 L217.6,1559.6 L217.6,1559.1 L221.7,1559.1 L221.7,1558.4 L225.8,1558.4 L225.8,1557.8 L230.0,1557.8 L230.0,1557.1 L234.1,1557.1 L234.1,1556.4 L238.7,1556.4 L238.7,1554.6 L243.3,1554.6 L243.3,1552.7 L247.9,1552.7 L247.9,1550.9 L252.3,1550.9 L252.3,1549.8 L256.7,1549.8 L256.7,1548.7 L261.1,1548.7 L261.1,1547.6 L265.5,1547.6 L265.5,1546.5 L269.9,1546.5 L269.9,1545.4 L274.0,1545.4 L274.0,1543.7 L278.2,1543.7 L278.2,1542.0 L282.4,1542.0 L282.4,1540.2 L286.5,1540.2 L286.5,1538.5 L291.3,1538.5 L291.3,1536.6 L296.1,1536.6 L296.1,1534.8 L300.9,1534.8 L300.9,1532.9 L305.7,1532.9 L305.7,1531.0 L309.9,1531.0 L309.9,1529.0 L314.0,1529.0 L314.0,1526.9 L318.1,1526.9 L318.1,1524.8 L322.3,1524.8 L322.3,1522.8 L327.8,1522.8 L327.8,1521.4 L333.3,1521.4 L333.3,1520.0 L337.7,1520.0 L337.7,1519.6 L342.1,1519.6 L342.1,1519.1 L346.6,1519.1 L346.6,1518.7 L351.0,1518.7 L351.0,1518.2 L355.4,1518.2 L355.4,1517.8 L359.5,1517.8 L359.5,1516.9 L363.6,1516.9 L363.6,1516.0 L367.8,1516.0 L367.8,1515.1 L371.9,1515.1 L371.9,1514.2 L376.0,1514.2 L376.0,1513.2 L380.1,1513.2 L380.1,1512.2 L384.3,1512.2 L384.3,1511.1 L388.4,1511.1 L388.4,1510.1 L393.9,1510.1 L393.9,1508.2 L399.4,1508.2 L399.4,1506.2 L404.2,1506.2 L404.2,1504.8 L409.0,1504.8 L409.0,1503.5 L413.9,1503.5 L413.9,1502.1 L418.7,1502.1 L418.7,1500.7 L423.3,1500.7 L423.3,1499.8 L427.9,1499.8 L427.9,1498.9 L432.5,1498.9 L432.5,1498.0 L437.1,1498.0 L437.1,1496.3 L441.7,1496.3 L441.7,1494.7 L446.3,1494.7 L446.3,1493.0 L450.9,1493.0 L450.9,1492.5 L455.5,1492.5 L455.5,1492.1 L460.1,1492.1 L460.1,1491.6 L464.8,1491.6 L464.8,1491.2 L469.5,1491.2 L469.5,1490.8 L474.2,1490.8 L474.2,1490.4 L479.0,1490.4 L479.0,1490.0 L483.7,1490.0 L483.7,1489.6 L488.4,1489.6 L488.4,1489.2 L493.1,1489.2 L493.1,1488.8 L497.2,1488.8 L497.2,1486.3 L501.3,1486.3 L501.3,1483.8 L505.5,1483.8 L505.5,1482.8 L509.6,1482.8 L509.6,1481.9 L514.1,1481.9 L514.1,1481.6 L518.5,1481.6 L518.5,1481.4 L523.0,1481.4 L523.0,1481.1 L527.4,1481.1 L527.4,1480.9 L531.9,1480.9 L531.9,1480.6 L536.3,1480.6 L536.3,1480.4 L540.8,1480.4 L540.8,1480.1 L545.2,1480.1 L545.2,1479.9 L549.7,1479.9 L549.7,1479.6 L554.1,1479.6 L554.1,1479.4 L558.6,1479.4 L558.6,1479.1 L563.0,1479.1 L563.0,1478.9 L567.5,1478.9 L567.5,1478.6 L573.0,1478.6 L573.0,1472.2 L577.8,1472.2 L577.8,1471.2 L582.6,1471.2 L582.6,1470.2 L587.5,1470.2 L587.5,1469.1 L592.3,1469.1 L592.3,1468.1 L596.7,1468.1 L596.7,1467.8 L601.1,1467.8 L601.1,1467.5 L605.5,1467.5 L605.5,1467.3 L609.9,1467.3 L609.9,1467.0 L614.3,1467.0 L614.3,1466.7 L618.7,1466.7 L618.7,1466.3 L623.1,1466.3 L623.1,1465.8 L627.6,1465.8 L627.6,1465.4 L632.0,1465.4 L632.0,1464.9 L636.4,1464.9 L636.4,1464.5 L643.3,1464.5 L643.3,1459.8 L663.9,1459.8 L669.4,1459.8 L669.4,1457.6 L674.2,1457.6 L674.2,1457.1 L679.0,1457.1 L679.0,1456.7 L683.9,1456.7 L683.9,1456.2 L688.7,1456.2 L688.7,1455.7 L692.9,1455.7 L692.9,1453.9 L697.0,1453.9 L697.0,1452.1 L702.0,1452.1 L702.0,1452.0 L706.9,1452.0 L706.9,1451.9 L711.9,1451.9 L711.9,1451.8 L716.8,1451.8 L716.8,1451.7 L721.8,1451.7 L721.8,1451.6 L726.9,1451.6 L726.9,1448.9 L794.4,1448.9 L797.2,1448.9 L797.2,1446.2 L805.5,1446.2 L806.8,1446.2 L806.8,1444.3 L810.9,1444.3 L812.3,1444.3 L812.3,1442.3 L856.4,1442.3 L857.8,1442.3 L857.8,1440.4 L936.3,1440.4 L937.7,1440.4 L937.7,1438.5 L941.8,1438.5 L942.7,1438.5 L942.7,1434.3 L980.8,1434.3"/>
<rect x="697.4" y="962.4" width="291.6" height="139.9" fill="none" stroke="#000" stroke-width="1.3"/>
<path d="M721.2,991.85 H795" stroke="#0b5d83" stroke-width="2.75" fill="none"/>
<path d="M721.2,1032.5 H795" stroke="#944b4f" stroke-width="2.75" fill="none"/>
<path d="M721.2,1073.2 H795" stroke="#5d8344" stroke-width="2.75" fill="none"/>
</svg></body></html>
